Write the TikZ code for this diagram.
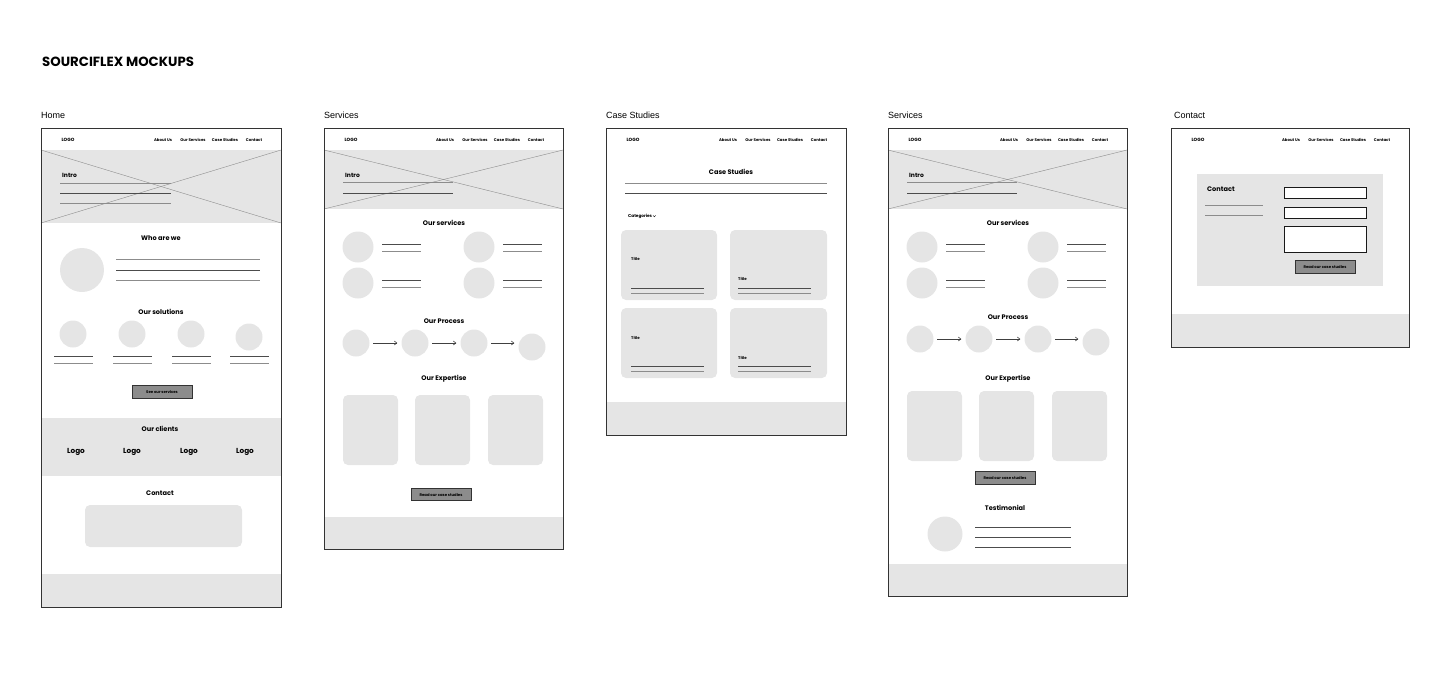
\documentclass[tikz,border=0pt]{standalone}
\usepackage{fontspec}
\setmainfont{Liberation Sans}
\newfontfamily\mock{Poppins}
\usetikzlibrary{arrows.meta, positioning}

\tikzset{
  page/.style={draw=black!80, line width=0.9pt},
  band/.style={fill=black!10},
  blob/.style={circle, fill=black!10, inner sep=0pt},
  card/.style={fill=black!10, rounded corners=5pt},
  rulelt/.style={draw=black!45, line width=1pt},
  ruledk/.style={draw=black!70, line width=0.8pt},
  cross/.style={draw=black!45, line width=0.4pt},
  btn/.style={draw=black!80, fill=black!45, line width=0.8pt, minimum width=60pt, minimum height=12.5pt, inner sep=0pt, font=\mock\bfseries\fontsize{3.8}{4}\selectfont},
  field/.style={draw=black!90, fill=white, line width=0.9pt},
  head/.style={font=\mock\bfseries\fontsize{6.6}{7}\selectfont, inner sep=0pt},
  tinytxt/.style={font=\mock\bfseries\fontsize{3.9}{4}\selectfont, inner sep=0pt},
  navtxt/.style={tinytxt, anchor=base},
  pagelabel/.style={font=\fontsize{9}{10}\selectfont, anchor=west, inner sep=0pt},
  flow/.style={-{Straight Barb[length=2.5pt,width=4pt]}, draw=black!75, line width=0.6pt, shorten <=3.5pt, shorten >=4pt}
}

\begin{document}
\begin{tikzpicture}[x=1pt, y=-1pt]
\useasboundingbox (0,0) rectangle (1440,672);

% title and page names
\node[anchor=west, inner sep=0pt, font=\mock\bfseries\fontsize{13.3}{14}\selectfont] (title) at (42,62) {SOURCIFLEX MOCKUPS};
\node[pagelabel] (lblhome) at (41,115) {Home};
\node[pagelabel] (lblserv) at (324,115) {Services};
\node[pagelabel] (lblcase) at (606,115) {Case Studies};
\node[pagelabel] (lblserv2) at (888,115) {Services};
\node[pagelabel] (lblcont) at (1174,115) {Contact};

% grey bands (hero, client strip, footers)
\fill[band] (41,150) rectangle (281,223);
\draw[cross] (41,150) -- (281,223);
\draw[cross] (41,223) -- (281,150);
\fill[band] (41,418) rectangle (281,476);
\fill[band] (41,574) rectangle (281,607);

\fill[band] (324,150) rectangle (563,209);
\draw[cross] (324,150) -- (563,209);
\draw[cross] (324,209) -- (563,150);
\fill[band] (324,517) rectangle (563,549);

\fill[band] (606,402) rectangle (846,435);

\fill[band] (888,150) rectangle (1127,209);
\draw[cross] (888,150) -- (1127,209);
\draw[cross] (888,209) -- (1127,150);
\fill[band] (888,564) rectangle (1127,596);

\fill[band] (1197,174) rectangle (1383,286);
\fill[band] (1171,314) rectangle (1409,347);

% page outlines
\draw[page] (41,128) rectangle (281,607);
\draw[page] (324,128) rectangle (563,549);
\draw[page] (606,128) rectangle (846,435);
\draw[page] (888,128) rectangle (1127,596);
\draw[page] (1171,128) rectangle (1409,347);

% nav bars
\foreach \l/\r/\p in {41/281/a, 324/563/b, 606/846/c, 888/1127/d, 1171/1409/e} {
  \node[navtxt, font=\mock\bfseries\fontsize{4.6}{5}\selectfont] (logo\p) at (\l+27,141.6) {LOGO};
  \node[navtxt] (about\p) at (\r-118,141.8) {About Us};
  \node[navtxt] (ourserv\p) at (\r-88,141.8) {Our Services};
  \node[navtxt] (cases\p) at (\r-56,141.8) {Case Studies};
  \node[navtxt] (contact\p) at (\r-27,141.8) {Contact};
}

%% Home
\node[head, anchor=west, font=\mock\bfseries\fontsize{6}{7}\selectfont] (introa) at (62,175) {Intro};
\draw[rulelt] (60,183) -- (171,183);
\draw[ruledk] (60,193) -- (171,193);
\draw[rulelt] (60,203) -- (171,203);

\node[head] (who) at (161,238) {Who are we};
\node[blob, minimum size=44pt] (whopic) at (82,270) {};
\draw[rulelt] (116,259) -- (260,259);
\draw[ruledk] (116,270) -- (260,270);
\draw[rulelt] (116,280) -- (260,280);

\node[head] (sol) at (161,312) {Our solutions};
\foreach \x/\y/\i in {73/334/1, 132/334/2, 191/334/3, 249/337/4} {
  \node[blob, minimum size=27pt] (sol\i) at (\x,\y) {};
  \draw[ruledk] (\x-19,356) -- (\x+20,356);
  \draw[rulelt] (\x-19,363) -- (\x+20,363);
}
\node[btn] (seeserv) at (162,392) {See our services};

\node[head] (clients) at (160,429) {Our clients};
\foreach \x/\i in {76/1, 132/2, 189/3, 245/4}
  \node[head, font=\mock\bfseries\fontsize{7.3}{8}\selectfont] (logo\i) at (\x,452) {Logo};

\node[head] (conthead) at (160,493) {Contact};
\fill[card] (85,505) rectangle (242,547);

%% Services
\node[head, anchor=west, font=\mock\bfseries\fontsize{6}{7}\selectfont] (introb) at (345,175) {Intro};
\draw[rulelt] (343,182) -- (453,182);
\draw[ruledk] (343,193) -- (453,193);

\node[head] (servb) at (444,223) {Our services};
\foreach \x/\y/\i in {358/247/1, 358/283/2, 479/247/3, 479/283/4} {
  \node[blob, minimum size=31pt] (svb\i) at (\x,\y) {};
  \draw[ruledk] (\x+24,\y-3) -- (\x+63,\y-3);
  \draw[rulelt] (\x+24,\y+4) -- (\x+63,\y+4);
}

\node[head] (procb) at (444,321) {Our Process};
\node[blob, minimum size=27pt] (pb1) at (356,343) {};
\node[blob, minimum size=27pt] (pb2) at (415,343) {};
\node[blob, minimum size=27pt] (pb3) at (474,343) {};
\node[blob, minimum size=27pt] (pb4) at (532,347) {};
\draw[flow] (pb1.east) -- (pb1.east -| pb2.west);
\draw[flow] (pb2.east) -- (pb2.east -| pb3.west);
\draw[flow] (pb3.east) -- (pb3.east -| pb4.west);

\node[head] (expb) at (444,379) {Our Expertise};
\fill[card] (343,395) rectangle (398,465);
\fill[card] (415,395) rectangle (470,465);
\fill[card] (488,395) rectangle (543,465);
\node[btn] (readb) at (441,494.5) {Read our case studies};

%% Case Studies
\node[head] (casehead) at (731,172) {Case Studies};
\draw[rulelt] (625,183) -- (827,183);
\draw[ruledk] (625,193) -- (827,193);
\node[tinytxt, anchor=west, font=\mock\bfseries\fontsize{4.2}{5}\selectfont] (cat) at (628,216) {Categories};
\draw[black, line width=0.45pt] ([xshift=0.8pt, yshift=0.6pt]cat.east) -- ++(1.3,1.4) -- ++(1.3,-1.4);

\fill[card] (621,230) rectangle (717,300);
\fill[card] (730,230) rectangle (827,300);
\fill[card] (621,308) rectangle (717,378);
\fill[card] (730,308) rectangle (827,378);
\foreach \x/\y/\i in {631/259/1, 738/279/2, 631/338/3, 738/358/4}
  \node[tinytxt, anchor=west] (ttl\i) at (\x,\y) {Title};
\foreach \x/\y in {631/288, 738/288, 631/366, 738/366} {
  \draw[ruledk] (\x,\y) -- (\x+73,\y);
  \draw[rulelt] (\x,\y+5.5) -- (\x+73,\y+5.5);
}

%% Services (with testimonial)
\node[head, anchor=west, font=\mock\bfseries\fontsize{6}{7}\selectfont] (introd) at (909,175) {Intro};
\draw[rulelt] (907,182) -- (1017,182);
\draw[ruledk] (907,193) -- (1017,193);

\node[head] (servd) at (1008,223) {Our services};
\foreach \x/\y/\i in {922/247/1, 922/283/2, 1043/247/3, 1043/283/4} {
  \node[blob, minimum size=31pt] (svd\i) at (\x,\y) {};
  \draw[ruledk] (\x+24,\y-3) -- (\x+63,\y-3);
  \draw[rulelt] (\x+24,\y+4) -- (\x+63,\y+4);
}

\node[head] (procd) at (1008,317) {Our Process};
\node[blob, minimum size=27pt] (pd1) at (920,339) {};
\node[blob, minimum size=27pt] (pd2) at (979,339) {};
\node[blob, minimum size=27pt] (pd3) at (1038,339) {};
\node[blob, minimum size=27pt] (pd4) at (1096,342) {};
\draw[flow] (pd1.east) -- (pd1.east -| pd2.west);
\draw[flow] (pd2.east) -- (pd2.east -| pd3.west);
\draw[flow] (pd3.east) -- (pd3.east -| pd4.west);

\node[head] (expd) at (1008,379) {Our Expertise};
\fill[card] (907,391) rectangle (962,461);
\fill[card] (979,391) rectangle (1034,461);
\fill[card] (1052,391) rectangle (1107,461);
\node[btn] (readd) at (1005,478) {Read our case studies};

\node[head] (testi) at (1005,508) {Testimonial};
\node[blob, minimum size=35pt] (testipic) at (945,534) {};
\draw[ruledk] (975,527) -- (1071,527);
\draw[ruledk] (975,537) -- (1071,537);
\draw[ruledk] (975,547) -- (1071,547);

%% Contact
\node[head, anchor=west] (conte) at (1207,189) {Contact};
\draw[rulelt] (1205,205) -- (1263,205);
\draw[rulelt] (1205,215) -- (1263,215);
\draw[field] (1284,187) rectangle (1366,198);
\draw[field] (1284,207) rectangle (1366,218);
\draw[field] (1284,226) rectangle (1366,252);
\node[btn] (reade) at (1325,267) {Read our case studies};

\end{tikzpicture}
\end{document}
